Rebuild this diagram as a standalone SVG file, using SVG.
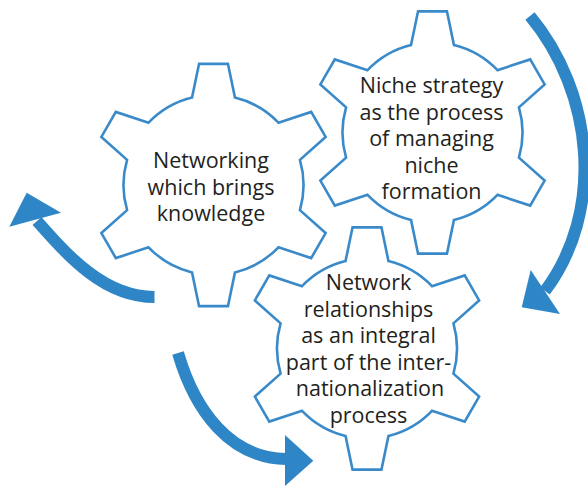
<svg xmlns="http://www.w3.org/2000/svg" width="588" height="486" viewBox="0 0 588 486">
<style>
.gear{fill:#ffffff;stroke:#3a8ac9;stroke-width:2.6;stroke-linejoin:miter}
.lbl{font-family:"Open Sans","Noto Sans","Liberation Sans",sans-serif;font-size:21.5px;fill:#231f20;text-anchor:middle}
.shaft{fill:none;stroke:#2f86c6;stroke-width:12;stroke-linecap:butt}
.head{fill:#2f86c6}
</style>
<defs>
<path id="gearShape" d="M -21.47,-87.40 L -14.44,-121.15 L 14.44,-121.15 L 21.47,-87.40 A 90 90 0 0 1 64.96,-62.29 L 97.69,-73.08 L 112.13,-48.06 L 86.43,-25.11 A 90 90 0 0 1 86.43,25.11 L 112.13,48.06 L 97.69,73.08 L 64.96,62.29 A 90 90 0 0 1 21.47,87.40 L 14.44,121.15 L -14.44,121.15 L -21.47,87.40 A 90 90 0 0 1 -64.96,62.29 L -97.69,73.08 L -112.13,48.06 L -86.43,25.11 A 90 90 0 0 1 -86.43,-25.11 L -112.13,-48.06 L -97.69,-73.08 L -64.96,-62.29 A 90 90 0 0 1 -21.47,-87.40 Z"/>
</defs>
<g id="gear-networking">
<use href="#gearShape" class="gear" transform="translate(213.5,185)"/>
<text class="lbl" x="211" y="168">Networking</text>
<text class="lbl" x="211" y="194.5">which brings</text>
<text class="lbl" x="211" y="221">knowledge</text>
</g>
<g id="gear-niche">
<use href="#gearShape" class="gear" transform="translate(432.5,132.5)"/>
<text class="lbl" x="431.5" y="93">Niche strategy</text>
<text class="lbl" x="431.5" y="119.5">as the process</text>
<text class="lbl" x="431.5" y="146">of managing</text>
<text class="lbl" x="431.5" y="172.5">niche</text>
<text class="lbl" x="431.5" y="199">formation</text>
</g>
<g id="gear-network">
<use href="#gearShape" class="gear" transform="translate(367,348.5)"/>
<text class="lbl" x="368.5" y="290">Network</text>
<text class="lbl" x="368.5" y="316.5">relationships</text>
<text class="lbl" x="368.5" y="343">as an integral</text>
<text class="lbl" x="368.5" y="369.5">part of the inter-</text>
<text class="lbl" x="370" y="396">nationalization</text>
<text class="lbl" x="368.5" y="422.5">process</text>
</g>
<g id="connectors">
<path class="shaft" d="M 530,16 C 594,93 605,211 545,291"/>
<polygon class="head" points="530.7,270 560,314 521.7,307.3"/>
<path class="shaft" d="M 154.5,297 C 104,297 68,256 37,221"/>
<polygon class="head" points="61,212.7 9.3,226.7 26.7,192.7"/>
<path class="shaft" d="M 178,353 C 195,411 230,458 286,459"/>
<polygon class="head" points="285,435 313.3,460.7 285,486"/>
</g>
</svg>
